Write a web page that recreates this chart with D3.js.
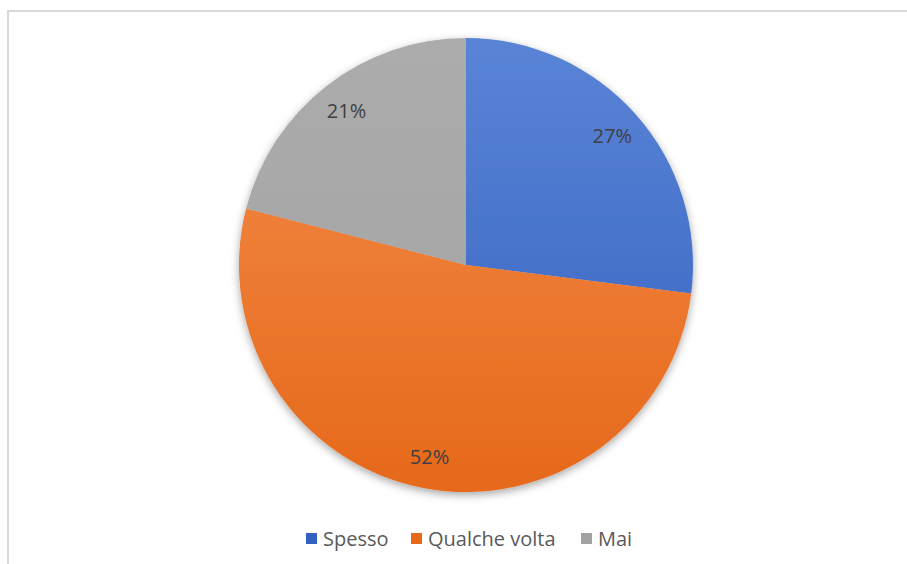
<!DOCTYPE html>
<html>
<head>
<meta charset="utf-8">
<script src="https://cdn.jsdelivr.net/npm/d3@7"></script>
<style>
  body { margin: 0; background: #fff; }
  svg { display: block; }
</style>
</head>
<body>
<svg id="chart" width="907" height="564"></svg>
<script>
// data
const categories = ['Spesso', 'Qualche volta', 'Mai']
const values = [27, 52, 21]
const colorsTop = ['#5a84d6', '#f48c4c', '#acacac']
const colorsBottom = ['#3361c0', '#e6691a', '#a2a2a2']

const svg = d3.select('#chart')
const cx = 466, cy = 265, radius = 227

// chart frame (only top and left edges show)
svg.append('path')
  .attr('d', 'M8,564 V11 H907')
  .attr('fill', 'none')
  .attr('stroke', '#d9d9d9')
  .attr('stroke-width', 2)

const defs = svg.append('defs')
const shadow = defs.append('filter')
  .attr('id', 'shadow')
  .attr('x', '-20%').attr('y', '-20%')
  .attr('width', '140%').attr('height', '140%')
shadow.append('feDropShadow')
  .attr('dx', 0).attr('dy', 3)
  .attr('stdDeviation', 4)
  .attr('flood-color', '#000')
  .attr('flood-opacity', 0.35)

categories.forEach(function (c, i) {
  const grad = defs.append('linearGradient')
    .attr('id', 'grad' + i)
    .attr('gradientUnits', 'userSpaceOnUse')
    .attr('x1', 0).attr('y1', -radius)
    .attr('x2', 0).attr('y2', radius)
  grad.append('stop').attr('offset', '0%').attr('stop-color', colorsTop[i])
  grad.append('stop').attr('offset', '100%').attr('stop-color', colorsBottom[i])
})

const pie = d3.pie().sort(null).value(d => d)
const arcs = pie(values)
const arc = d3.arc().innerRadius(0).outerRadius(radius)
const labelArc = d3.arc().innerRadius(195).outerRadius(195)

const g = svg.append('g').attr('transform', `translate(${cx},${cy})`)

g.append('g')
  .attr('filter', 'url(#shadow)')
  .selectAll('path')
  .data(arcs)
  .join('path')
  .attr('d', arc)
  .attr('fill', (d, i) => `url(#grad${i})`)

g.selectAll('text')
  .data(arcs)
  .join('text')
  .attr('transform', d => `translate(${labelArc.centroid(d)})`)
  .attr('text-anchor', 'middle')
  .attr('dy', '0.35em')
  .attr('font-family', 'Open Sans, sans-serif')
  .attr('font-size', 20)
  .attr('fill', '#404040')
  .text(d => d.data + '%')

// legend
const legend = svg.append('g').attr('transform', 'translate(0,538)')
const legendX = [306, 411, 581]
const items = legend.selectAll('g')
  .data(categories)
  .join('g')
  .attr('transform', (d, i) => `translate(${legendX[i]},0)`)
items.append('rect')
  .attr('x', 0).attr('y', -5)
  .attr('width', 11).attr('height', 11)
  .attr('fill', (d, i) => colorsBottom[i])
items.append('text')
  .attr('x', 17)
  .attr('y', 1)
  .attr('dy', '0.35em')
  .attr('font-family', 'Open Sans, sans-serif')
  .attr('font-size', 20)
  .attr('fill', '#595959')
  .text(d => d)
</script>
</body>
</html>
